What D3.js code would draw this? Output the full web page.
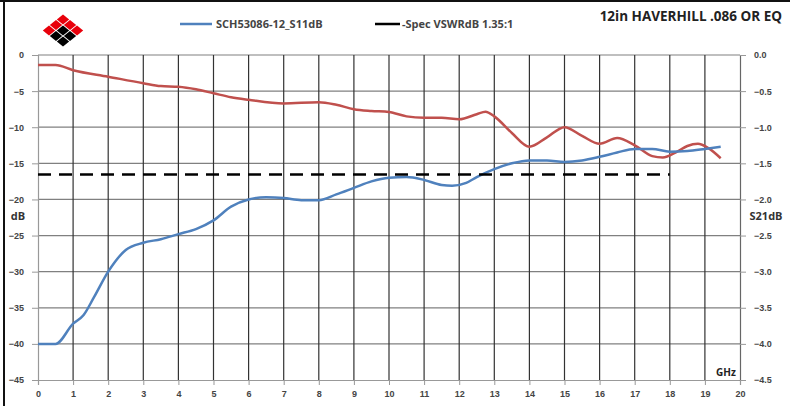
<!DOCTYPE html>
<html>
<head>
<meta charset="utf-8">
<script src="https://cdn.jsdelivr.net/npm/d3@7"></script>
<style>
body { margin: 0; background: #fff; }
svg { display: block; font-family: "Open Sans", "DejaVu Sans", sans-serif; }
</style>
</head>
<body>
<div id="chart"></div>
<script>
var wt = 790;
var ht = 406;
var margin = {top: 55, right: 50, bottom: 26, left: 38};
var width = wt - margin.left - margin.right;
var height = ht - margin.top - margin.bottom;

// S11 (left axis, dB)
var s11Freq = [0, 0.5, 1, 1.3, 1.6, 2, 2.5, 3, 3.5, 4, 4.5, 5, 5.5, 6, 6.5, 7, 7.5, 8, 8.5, 9, 9.5, 10, 10.5, 11, 11.5, 11.8, 12.2, 12.5, 13, 13.5, 14, 14.5, 15, 15.5, 16, 16.5, 17, 17.5, 18, 18.5, 19, 19.45];
var s11Vals = [-40, -40, -37.2, -36, -33.5, -30, -27, -26, -25.5, -24.8, -24.1, -22.9, -21, -20, -19.7, -19.8, -20.1, -20.1, -19.3, -18.4, -17.5, -17, -16.9, -17.3, -18, -18.1, -17.7, -16.9, -15.8, -15, -14.6, -14.6, -14.8, -14.6, -14.1, -13.5, -13, -13, -13.4, -13.3, -13, -12.7];

// S21 (right axis, dB)
var s21Freq = [0, 0.5, 1, 2, 3, 3.5, 4, 4.5, 5, 5.5, 6, 7, 8, 8.5, 9, 9.5, 10, 10.5, 11, 11.5, 12, 12.5, 12.75, 13, 13.5, 14, 14.5, 15, 15.5, 16, 16.5, 17, 17.5, 17.8, 18.2, 18.5, 18.8, 19.1, 19.45];
var s21Vals = [-0.14, -0.14, -0.21, -0.30, -0.39, -0.43, -0.44, -0.475, -0.53, -0.585, -0.62, -0.67, -0.655, -0.69, -0.75, -0.775, -0.79, -0.85, -0.87, -0.87, -0.89, -0.82, -0.785, -0.85, -1.08, -1.27, -1.14, -1.0, -1.12, -1.23, -1.15, -1.25, -1.40, -1.42, -1.34, -1.26, -1.23, -1.29, -1.43];

// spec limit
var specFreq = [0, 18];
var specVal = -16.54;

var xTicks = d3.range(0, 21);
var yTicks = d3.range(0, -50, -5);
var y2Ticks = [0, -0.5, -1, -1.5, -2, -2.5, -3, -3.5, -4, -4.5];

var svg = d3.select("#chart").append("svg")
    .attr("width", wt)
    .attr("height", ht);

svg.append("rect").attr("width", wt).attr("height", ht).attr("fill", "#fff");

// frame
svg.append("line").attr("x1", 0).attr("x2", wt).attr("y1", 1).attr("y2", 1)
    .attr("stroke", "#111").attr("stroke-width", 2);
svg.append("line").attr("x1", 4).attr("x2", 4).attr("y1", 0).attr("y2", ht)
    .attr("stroke", "#111").attr("stroke-width", 2);

var g = svg.append("g")
    .attr("transform", "translate(" + margin.left + "," + margin.top + ")");

var x = d3.scaleLinear().domain([0, 20]).range([0, width]);
var y = d3.scaleLinear().domain([-45, 0]).range([height, 0]);
var y2 = d3.scaleLinear().domain([-4.5, 0]).range([height, 0]);

// grid
g.selectAll(".hgrid").data(yTicks.filter(function (d) { return d > -45; }))
    .enter().append("line")
    .attr("x1", 0).attr("x2", width)
    .attr("y1", function (d) { return y(d); }).attr("y2", function (d) { return y(d); })
    .attr("stroke", "#808080").attr("stroke-width", 1.2);

g.selectAll(".vgrid").data(xTicks.filter(function (d) { return d > 0 && d < 20; }))
    .enter().append("line")
    .attr("x1", function (d) { return x(d); }).attr("x2", function (d) { return x(d); })
    .attr("y1", 0).attr("y2", height)
    .attr("stroke", "#333").attr("stroke-width", 1.2);

// axes
var fmt1 = d3.format(".1f");
var axX = g.append("g").attr("transform", "translate(0," + height + ")")
    .call(d3.axisBottom(x).tickValues(xTicks).tickSize(5).tickPadding(6));
var axL = g.append("g")
    .call(d3.axisLeft(y).tickValues(yTicks).tickSize(6).tickPadding(8));
var axR = g.append("g").attr("transform", "translate(" + width + ",0)")
    .call(d3.axisRight(y2).tickValues(y2Ticks).tickSize(6).tickPadding(8)
        .tickFormat(function (d) { return fmt1(d); }));

[axX, axL, axR].forEach(function (a) {
    a.select(".domain").attr("stroke", "#999").attr("stroke-width", 1.2);
    a.selectAll(".tick line").attr("stroke", "#999");
    a.selectAll("text").attr("fill", "#444").attr("font-size", 9).attr("font-weight", "bold");
});
axR.select(".domain").attr("stroke", "#666");

// lines
var line = d3.line().curve(d3.curveMonotoneX);

g.append("path")
    .datum(s21Freq.map(function (f, i) { return [x(f), y2(s21Vals[i])]; }))
    .attr("fill", "none").attr("stroke", "#c0504d").attr("stroke-width", 2.5)
    .attr("d", line);

g.append("path")
    .datum(s11Freq.map(function (f, i) { return [x(f), y(s11Vals[i])]; }))
    .attr("fill", "none").attr("stroke", "#4f81bd").attr("stroke-width", 2.5)
    .attr("d", line);

g.append("path")
    .datum(specFreq.map(function (f) { return [x(f), y(specVal)]; }))
    .attr("fill", "none").attr("stroke", "#000").attr("stroke-width", 2.5)
    .attr("stroke-dasharray", "13,8")
    .attr("d", d3.line());

// axis titles
svg.append("text").attr("x", 18).attr("y", 220).attr("text-anchor", "middle")
    .attr("font-size", 11).attr("font-weight", "bold").attr("fill", "#333").text("dB");
svg.append("text").attr("x", 766).attr("y", 220).attr("text-anchor", "middle")
    .attr("font-size", 11).attr("font-weight", "bold").attr("fill", "#333").text("S21dB");
svg.append("text").attr("x", 726).attr("y", 376).attr("text-anchor", "middle")
    .attr("font-size", 10).attr("font-weight", "bold").attr("fill", "#222").text("GHz");

// legend
var leg = svg.append("g");
leg.append("line").attr("x1", 180).attr("x2", 212).attr("y1", 24).attr("y2", 24)
    .attr("stroke", "#4f81bd").attr("stroke-width", 2.5);
leg.append("text").attr("x", 216).attr("y", 28).attr("font-size", 11).attr("font-weight", "bold")
    .attr("fill", "#444").text("SCH53086-12_S11dB");
leg.append("line").attr("x1", 375).attr("x2", 400).attr("y1", 24).attr("y2", 24)
    .attr("stroke", "#000").attr("stroke-width", 2.5);
leg.append("text").attr("x", 402).attr("y", 28).attr("font-size", 11).attr("font-weight", "bold")
    .attr("fill", "#444").text("-Spec VSWRdB 1.35:1");

// title
svg.append("text").attr("x", 782).attr("y", 21).attr("text-anchor", "end")
    .attr("font-size", 13.5).attr("font-weight", "bold").attr("fill", "#222")
    .text("12in HAVERHILL .086 OR EQ");

// logo: 3x3 grid of flattened diamonds
var logoCells = [
    [0, 0, "#e8000b"], [0, 1, "#e8000b"], [1, 0, "#e8000b"],
    [0, 2, "#e8000b"], [2, 0, "#e8000b"],
    [1, 1, "#000"], [1, 2, "#000"], [2, 1, "#000"], [2, 2, "#000"]
];
var logo = svg.append("g").attr("transform", "translate(63,14)");
var sx = 7, sy = 5.5;
logo.selectAll("path").data(logoCells).enter().append("path")
    .attr("d", function (d) {
        var cx = (d[1] - d[0]) * sx, cy = (d[0] + d[1]) * sy + sy;
        var rx = sx - 0.8, ry = sy - 0.6;
        return "M" + cx + "," + (cy - ry) + "L" + (cx + rx) + "," + cy + "L" + cx + "," + (cy + ry) + "L" + (cx - rx) + "," + cy + "Z";
    })
    .attr("fill", function (d) { return d[2]; });
</script>
</body>
</html>
